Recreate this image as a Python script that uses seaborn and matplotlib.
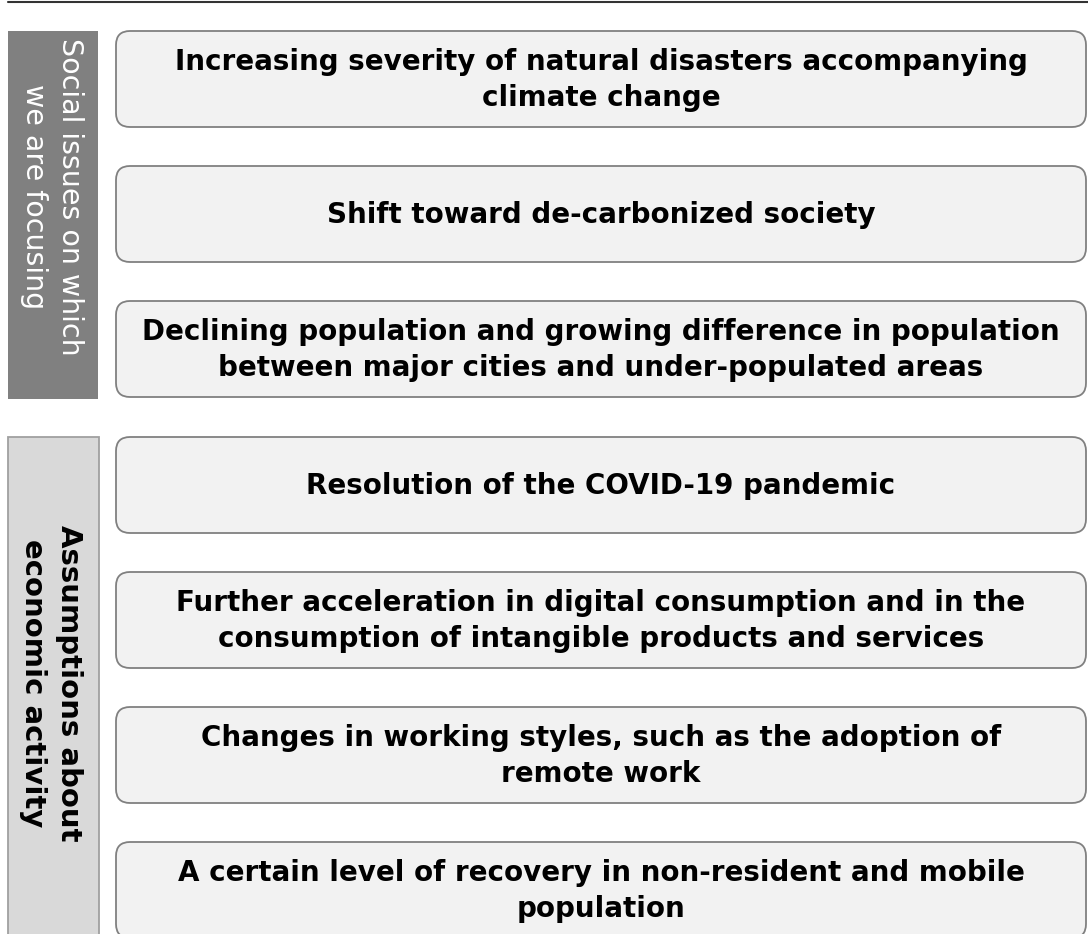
import matplotlib
matplotlib.use("Agg")
import matplotlib.pyplot as plt
import seaborn as sns
from matplotlib.patches import FancyBboxPatch, Rectangle

sns.set_theme(style="white")
plt.rcParams['font.family'] = ['DejaVu Sans']

# group labels (left side bars)
group_labels = ["Social issues on which\nwe are focusing",
                "Assumptions about\neconomic activity"]
# items in each group
social_items = [
    "Increasing severity of natural disasters accompanying\nclimate change",
    "Shift toward de-carbonized society",
    "Declining population and growing difference in population\nbetween major cities and under-populated areas",
]
economic_items = [
    "Resolution of the COVID-19 pandemic",
    "Further acceleration in digital consumption and in the\nconsumption of intangible products and services",
    "Changes in working styles, such as the adoption of\nremote work",
    "A certain level of recovery in non-resident and mobile\npopulation",
]

W, H = 1088, 934
fig = plt.figure(figsize=(W / 100, H / 100), dpi=100)
ax = fig.add_axes([0, 0, 1, 1])
ax.set_xlim(0, W)
ax.set_ylim(H, 0)
ax.axis("off")

# top rule
ax.plot([8, W], [2, 2], color="#333333", lw=1.5)

box_h = 96
step = 135


def draw_box(y0, text):
    p = FancyBboxPatch((116, y0), W - 116 - 2, box_h,
                       boxstyle="round,pad=0,rounding_size=14",
                       facecolor="#f2f2f2", edgecolor="#808080", lw=1.3)
    ax.add_patch(p)
    ax.text(116 + (W - 118) / 2, y0 + box_h / 2 + 1, text, ha="center", va="center",
            fontsize=20, fontweight="bold", color="black", linespacing=1.37)


# group 1
y_start = 31
ax.add_patch(Rectangle((8, y_start), 90, 368, facecolor="#808080", edgecolor="none"))
ax.text(52, 197, group_labels[0], rotation=-90, ha="center", va="center",
        fontsize=20.5, fontweight="normal", color="white", linespacing=1.4)
for i, t in enumerate(social_items):
    draw_box(y_start + i * step, t)

# group 2
y2 = 437
ax.add_patch(Rectangle((8, y2), 91, 520, facecolor="#d9d9d9", edgecolor="#a0a0a0", lw=1.3))
ax.text(51, 683, group_labels[1], rotation=-90, ha="center", va="center",
        fontsize=21, fontweight="bold", color="black", linespacing=1.4)
for i, t in enumerate(economic_items):
    draw_box(y2 + i * step, t)

fig.savefig("out.png", dpi=100)
